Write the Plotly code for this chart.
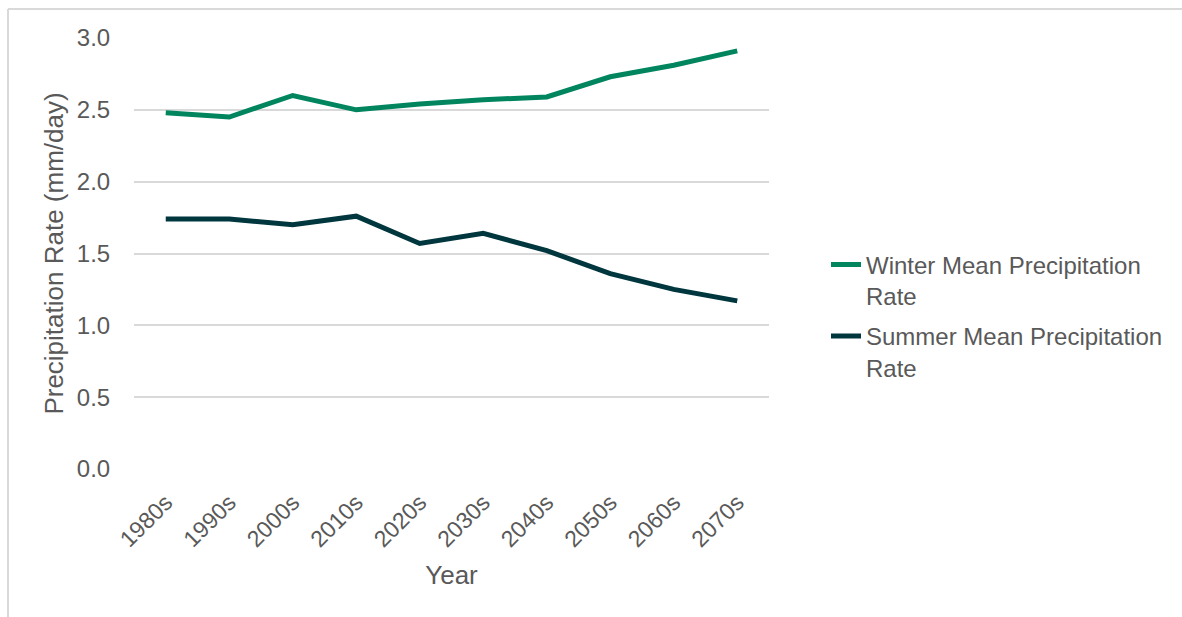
import plotly.graph_objects as go

decades = ["1980s", "1990s", "2000s", "2010s", "2020s", "2030s", "2040s", "2050s", "2060s", "2070s"]
winter = [2.48, 2.45, 2.60, 2.50, 2.54, 2.57, 2.59, 2.73, 2.81, 2.91]
summer = [1.74, 1.74, 1.70, 1.76, 1.57, 1.64, 1.52, 1.36, 1.25, 1.17]
y_ticks = [0.0, 0.5, 1.0, 1.5, 2.0, 2.5, 3.0]

FONT = "Arial, Liberation Sans, sans-serif"
GREY = "#595959"

fig = go.Figure()
fig.add_trace(go.Scatter(x=decades, y=winter, mode="lines", legendgroup="winter",
                         name="Winter Mean Precipitation<br>Rate",
                         line=dict(color="#00855f", width=5)))
fig.add_trace(go.Scatter(x=decades, y=summer, mode="lines", legendgroup="summer",
                         name="Summer Mean Precipitation<br>Rate",
                         line=dict(color="#00363e", width=5)))

L, R, T, B = 134, 1182 - 769, 38, 617 - 469
W, H = 1182, 617
pw, ph = W - L - R, H - T - B

def px_x(px):
    return (px - L) / pw

def px_y(py):
    return (H - B - py) / ph

fig.update_layout(
    width=W, height=H,
    margin=dict(l=L, r=R, t=T, b=B),
    paper_bgcolor="white", plot_bgcolor="white",
    font=dict(family=FONT, color=GREY, size=24),
    showlegend=True,
    legend=dict(x=px_x(826), y=px_y(316), xanchor="left", yanchor="middle",
                valign="top", traceorder="grouped",
                font=dict(size=24, color=GREY), tracegroupgap=6,
                bgcolor="rgba(0,0,0,0)"),
    xaxis=dict(
        type="category", range=[-0.5, len(decades) - 0.5], tickangle=-45,
        showgrid=False, zeroline=False,
        showline=False, ticks="outside", ticklen=10, tickcolor="rgba(0,0,0,0)",
        tickfont=dict(size=23, color=GREY),
        title=dict(text="Year", font=dict(size=26, color=GREY), standoff=14),
        automargin=False,
    ),
    yaxis=dict(
        range=[0, 3], tickvals=y_ticks, tickformat=".1f",
        showgrid=True, gridcolor="#d9d9d9", gridwidth=1.5, zeroline=False,
        showline=False, ticks="outside", ticklen=18, tickcolor="rgba(0,0,0,0)",
        tickfont=dict(size=24, color=GREY),
        title=dict(text="Precipitation Rate (mm/day)", font=dict(size=26, color=GREY), standoff=5),
        automargin=False,
    ),
    shapes=[
        dict(type="line", xref="paper", yref="paper",
             x0=px_x(8), x1=px_x(8), y0=px_y(9), y1=px_y(640),
             line=dict(color="#d9d9d9", width=2)),
        dict(type="line", xref="paper", yref="paper",
             x0=px_x(8), x1=px_x(1200), y0=px_y(9), y1=px_y(9),
             line=dict(color="#d9d9d9", width=2)),
    ],
)

fig.write_html("out.html")
